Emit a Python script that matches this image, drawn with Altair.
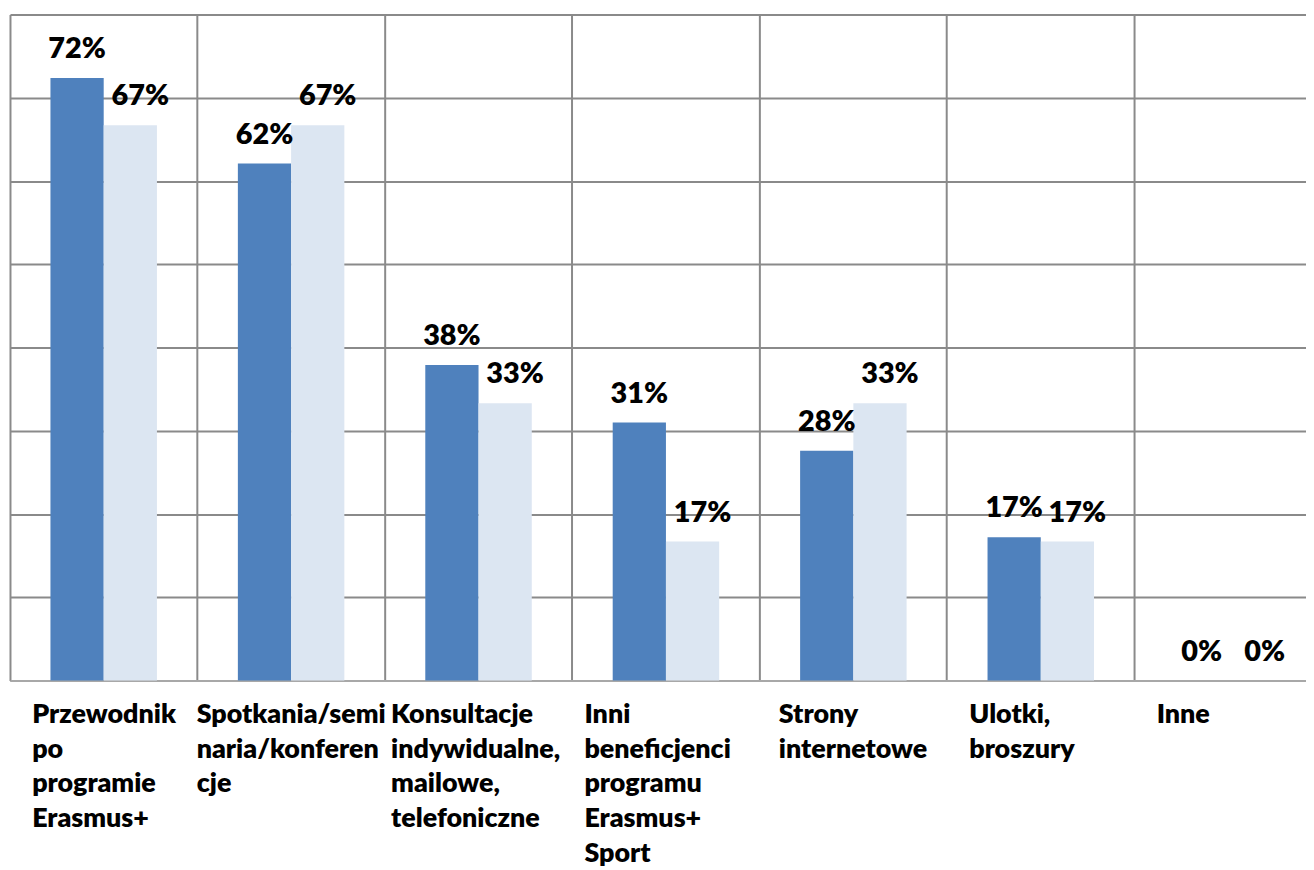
import altair as alt
import pandas as pd

# Category labels, as they are wrapped under the axis
label_lines = [
    ["Przewodnik", "po", "programie", "Erasmus+"],
    ["Spotkania/semi", "naria/konferen", "cje"],
    ["Konsultacje", "indywidualne,", "mailowe,", "telefoniczne"],
    ["Inni", "beneficjenci", "programu", "Erasmus+", "Sport"],
    ["Strony", "internetowe"],
    ["Ulotki,", "broszury"],
    ["Inne"],
]
series = ["Seria 1", "Seria 2"]
values_1 = [72.4, 62.1, 37.9, 31.0, 27.6, 17.2, 0.0]
values_2 = [66.7, 66.7, 33.3, 16.7, 33.3, 16.7, 0.0]

cat_keys = ["|".join(l) for l in label_lines]
rows = []
for k, v1, v2 in zip(cat_keys, values_1, values_2):
    rows.append({"cat": k, "series": series[0], "value": v1, "label": f"{round(v1)}%"})
    rows.append({"cat": k, "series": series[1], "value": v2, "label": f"{round(v2)}%"})
df = pd.DataFrame(rows)

grid_color = "#8a8a8a"
font_weight = 800

# label block: left-aligned lines; block shifted left of band centre,
# wider blocks (estimated from their longest line) are centred on the band
char_w = 13.6
base_off = 72
conds = []
for k, lines in zip(cat_keys, label_lines):
    half = max(len(s) for s in lines) * char_w / 2
    if half > base_off:
        conds.append({"test": f"datum.value === '{k}'", "value": -round(half)})
label_offset = {"condition": conds, "value": -base_off} if conds else -base_off

x_enc = alt.X(
    "cat:N",
    sort=cat_keys,
    scale=alt.Scale(paddingInner=0, paddingOuter=0, range=[0, 1320]),
    axis=alt.Axis(
        title=None,
        bandPosition=0,
        grid=True,
        gridColor=grid_color,
        gridWidth=2,
        ticks=False,
        domain=True,
        domainColor="#a8a8a8",
        domainWidth=2,
        labelAngle=0,
        labelAlign="left",
        labelBaseline="top",
        labelOffset=label_offset,
        labelPadding=21,
        labelFont="Lato",
        labelFontWeight=font_weight,
        labelFontSize=27,
        labelLineHeight=35,
        labelColor="#000000",
        labelExpr="split(datum.label, '|')",
        labelOverlap=False,
        labelLimit=400,
    ),
)
y_enc = alt.Y(
    "value:Q",
    scale=alt.Scale(domain=[0, 80], nice=False),
    axis=alt.Axis(
        title=None,
        tickCount=8,
        grid=True,
        gridColor=grid_color,
        gridWidth=2,
        labels=False,
        ticks=False,
        domain=False,
    ),
)
xoff = alt.XOffset("series:N", sort=series, scale=alt.Scale(paddingInner=0, paddingOuter=0.76))

bars = alt.Chart(df).mark_bar().encode(
    x=x_enc,
    y=y_enc,
    xOffset=xoff,
    color=alt.Color(
        "series:N",
        scale=alt.Scale(domain=series, range=["#4F81BD", "#DCE6F2"]),
        legend=None,
    ),
)

text_style = dict(
    dy=-20,
    baseline="alphabetic",
    align="center",
    font="Lato",
    fontWeight=font_weight,
    fontSize=29,
    color="#000000",
)
text_enc = dict(
    x=alt.X("cat:N", sort=cat_keys),
    y=alt.Y("value:Q"),
    xOffset=xoff,
    text="label:N",
)
texts_1 = alt.Chart(df).transform_filter(
    alt.datum.series == series[0]
).mark_text(**text_style).encode(**text_enc)
texts_2 = alt.Chart(df).transform_filter(
    alt.datum.series == series[1]
).mark_text(dx=10, **text_style).encode(**text_enc)

chart = (
    alt.layer(bars, texts_1, texts_2)
    .properties(
        width=1304,
        height=670,
        autosize=alt.AutoSizeParams(type="none"),
        padding={"left": 2, "top": 4, "right": 0, "bottom": 188},
        background="#ffffff",
    )
    .configure_view(stroke=None)
)

chart.save("out.html", embed_options={"renderer": "svg", "actions": False})
